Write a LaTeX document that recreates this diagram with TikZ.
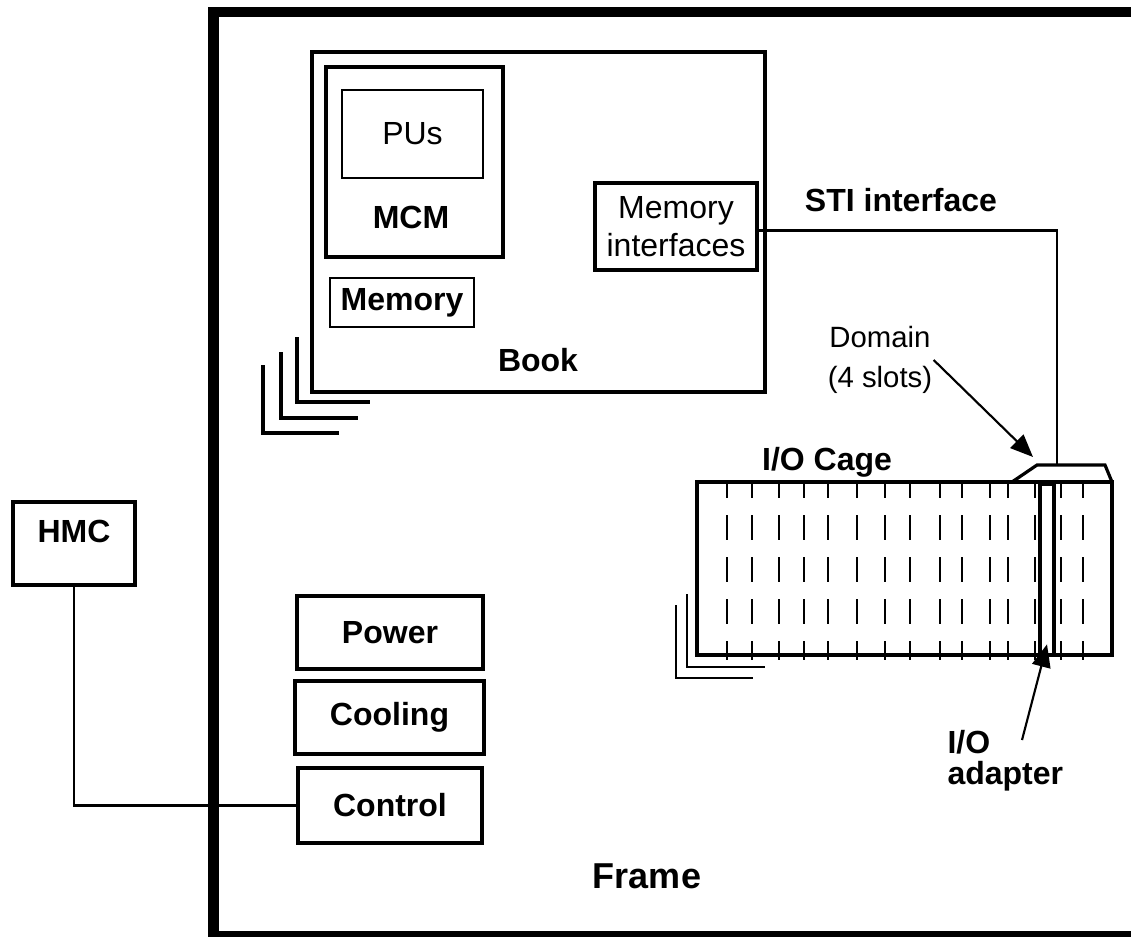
\documentclass[tikz,border=0pt]{standalone}
\usepackage{fontspec}
\setmainfont{Liberation Sans}
\usetikzlibrary{arrows.meta}

\tikzset{every picture/.style={line width=0.75pt}}
\tikzset{
  box/.style={draw, line width=2.4pt, inner sep=0pt},
  lbl/.style={inner sep=0.75pt, font=\fontsize{24}{28}\selectfont},
  blbl/.style={inner sep=0.75pt, font=\fontsize{24}{28}\selectfont\bfseries},
  slot/.style={line width=2.1pt, dash pattern=on 18.75pt off 12.75pt, dash phase=6.75pt},
  stack/.style={line width=2.6pt},
  pointer/.style={line width=1.6pt, -{Triangle[length=17pt,width=14pt]}},
}

\begin{document}
\begin{tikzpicture}[x=0.75pt,y=0.75pt,yscale=-1,xscale=1]
\useasboundingbox (0,0) rectangle (1131,936);
\clip (0,0) rectangle (1131,936);

%Frame
\draw [line width=8pt] (213.5,12) rectangle (1160,936.5) ;

%Book
\node [box, minimum width=339.75pt, minimum height=255pt] (book) at (538.5,222) {};
%Book stack
\draw [stack] (297,337) -- (297,402) -- (370,402) ;
\draw [stack] (281,352) -- (281,418) -- (358,418) ;
\draw [stack] (263,365) -- (263,433) -- (339,433) ;
%MCM
\node [box, minimum width=132.75pt, minimum height=142.5pt] (mcm) at (414.5,162) {};
\node [box, line width=1.8pt, minimum width=105.75pt, minimum height=66pt, font=\fontsize{24}{28}\selectfont] (pus) at (412.5,134) {PUs};
\node [blbl] (mcmlabel) at (411,217) {MCM};
%Memory
\node [box, line width=1.8pt, minimum width=108pt, minimum height=36.75pt, font=\fontsize{24}{28}\selectfont\bfseries] (memory) at (402,302.5) {Memory};
\node [box, minimum width=121.5pt, minimum height=65.25pt, align=center, font=\fontsize{24}{28}\selectfont] (memif) at (676,226.5) {Memory\\interfaces};
% Text Node
\node [blbl] (booklabel) at (538,360) {Book};

%STI interface
\coordinate (domtop) at (1057,466);
\draw [line width=1.6pt] ([yshift=3pt]memif.east) -| (domtop) ;
\node [blbl] (stilabel) at (901,200) {STI interface};

%I/O cage
\node [box, minimum width=311.25pt, minimum height=129.75pt] (cage) at (904.5,568.5) {};
%Cage stack
\draw [line width=1.6pt] (687,594) -- (687,667) -- (765,667) ;
\draw [line width=1.6pt] (676,605) -- (676,678) -- (753,678) ;
%Slot lines
\draw [slot] (727,482) -- (727,660) ;
\draw [slot] (752,482) -- (752,660) ;
\draw [slot] (779,482) -- (779,660) ;
\draw [slot] (804,482) -- (804,660) ;
\draw [slot] (828,482) -- (828,660) ;
\draw [slot] (857,482) -- (857,660) ;
\draw [slot] (885,482) -- (885,660) ;
\draw [slot] (910,482) -- (910,660) ;
\draw [slot] (940,482) -- (940,660) ;
\draw [slot] (962,482) -- (962,660) ;
\draw [slot] (990,482) -- (990,660) ;
\draw [slot] (1008,482) -- (1008,660) ;
\draw [slot] (1035,482) -- (1035,660) ;
\draw [slot] (1061,482) -- (1061,660) ;
\draw [slot] (1083,482) -- (1083,660) ;
%I/O adapter
\node [draw, fill=white, line width=3.5pt, inner sep=0pt, minimum width=10.5pt, minimum height=128.25pt] (adapter) at (1047,569.5) {};
%Domain bracket
\draw [line width=2.4pt] (1012,482) -- (1037,465) -- (1105,465) -- (1112,482) ;
% Text Node
\node [blbl] (cagelabel) at (827,462) {I/O Cage};
% Text Node
\node [inner sep=0.75pt, align=center, font=\fontsize{22}{30}\selectfont] (domlabel) at (880,360) {Domain\\(4 slots)};
\coordinate (domtip) at (1033,457);
\draw [pointer] (domlabel.east) -- (domtip) ;
% Text Node
\node [inner sep=0.75pt, align=left, anchor=west, font=\fontsize{24}{23}\selectfont\bfseries] (adlabel) at (946,761) {I/O\\adapter};
\coordinate (adtail) at (1022,740);
\draw [pointer] (adtail) -- ([yshift=-9.75pt]adapter.south) ;

%HMC
\node [box, minimum width=91.5pt, minimum height=62.25pt] (hmc) at (74,543.5) {};
\node [blbl] (hmclabel) at (74,531) {HMC};
%Power, cooling, control
\node [box, minimum width=139.5pt, minimum height=54.75pt, font=\fontsize{24}{28}\selectfont\bfseries] (power) at (390,632.5) {Power};
\node [box, minimum width=141.75pt, minimum height=54.75pt, font=\fontsize{24}{28}\selectfont\bfseries] (cooling) at (389.5,717.5) {Cooling};
\node [box, minimum width=138pt, minimum height=56.25pt, font=\fontsize{24}{28}\selectfont\bfseries] (control) at (390,805.5) {Control};
\draw [line width=1.6pt] (hmc.south) |- (control.west) ;

% Text Node
\node [inner sep=0.75pt, font=\fontsize{27}{32}\selectfont\bfseries] (framelabel) at (647,876) {Frame};

\end{tikzpicture}
\end{document}
